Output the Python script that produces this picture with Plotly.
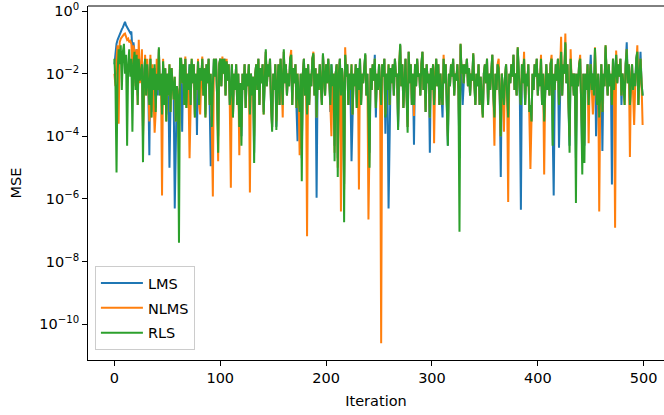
import plotly.graph_objects as go

iterations = list(range(500))

rls_mse = [
    3e-2, 4e-3, 7e-6, 1e-2, 6e-2, 2e-2, 8e-2, 3e-3, 5e-2, 9e-2, 1e-2, 4e-2, 5e-5, 2e-2, 6e-2, 8e-3, 3e-2, 1.4e-4, 2e-2, 5e-2, 3e-3, 4e-2, 1e-3, 3e-2, 6e-3,
    1e-2, 2e-2, 1.5e-5, 8e-3, 3e-2, 2e-3, 2e-2, 5e-3, 1e-3, 3e-2, 4e-4, 1.5e-2, 3e-3, 2e-2, 6e-4, 1e-2, 3e-3, 7e-2, 2e-3, 1e-2, 5e-4, 2.5e-2, 1e-3, 1.5e-2, 3e-4,
    1e-2, 2e-3, 2e-2, 6e-4, 1.5e-2, 4e-3, 1.5e-3, 8e-3, 3e-4, 4e-3, 2e-3, 4e-8, 3e-2, 3e-2, 5e-3, 2e-2, 1e-3, 3e-2, 8e-4, 1e-2, 3e-3, 2e-2, 1e-3, 3e-2, 5e-3,
    2e-2, 4e-4, 1e-2, 3e-3, 2.5e-2, 1e-3, 1.5e-2, 6e-3, 3e-2, 2e-3, 1.5e-2, 4e-4, 2e-2, 5e-3, 3e-2, 1e-3, 1e-2, 2e-4, 4e-3, 3e-2, 8e-3, 3e-2, 2e-3, 3e-5, 2e-2,
    3e-2, 4e-3, 3e-2, 1e-2, 3e-2, 2e-3, 2.5e-2, 6e-3, 2e-2, 1e-3, 3e-3, 2e-2, 4e-4, 1e-2, 3e-3, 2e-2, 1e-3, 1e-2, 2e-4, 5e-3, 5e-5, 1e-2, 3e-3, 2e-2, 8e-4,
    1e-2, 4e-3, 2e-2, 5e-4, 1e-2, 2e-3, 8e-3, 1.4e-5, 1e-2, 2e-2, 3e-3, 3e-2, 1e-3, 1.5e-2, 5e-3, 2e-2, 5e-4, 1e-2, 6e-2, 4e-3, 2e-2, 8e-3, 3e-2, 1e-3, 1.4e-4,
    1e-2, 3e-3, 2e-2, 1.6e-4, 5e-3, 2e-2, 1e-3, 3e-2, 6e-3, 1e-3, 6e-2, 5e-3, 2e-2, 2e-3, 1e-2, 4e-3, 3e-2, 4e-2, 1e-3, 1.5e-2, 5e-3, 2e-2, 8e-4, 1e-2, 2e-3,
    6e-4, 1e-2, 3.7e-6, 1e-2, 3e-2, 2e-3, 1.5e-2, 5e-4, 2e-2, 1e-3, 1e-2, 4e-3, 3e-2, 4.5e-2, 2e-3, 1.5e-2, 4e-4, 1e-2, 3e-3, 2e-2, 6e-3, 1e-3, 4.5e-2, 1e-2, 2e-3,
    2e-2, 5e-3, 3e-2, 8e-3, 1e-3, 2e-2, 4e-3, 1e-2, 1.6e-5, 1e-2, 2e-2, 5e-6, 1e-2, 3e-2, 2e-3, 1.5e-2, 5e-3, 1.8e-7, 4e-2, 8e-3, 2e-2, 1e-3, 1e-2, 3e-3, 2e-2,
    5e-4, 1e-2, 4e-3, 2e-2, 8e-4, 1.5e-2, 3e-3, 3e-2, 1e-3, 1e-2, 5e-3, 2e-2, 4.5e-2, 2e-3, 1e-2, 4e-4, 1e-5, 1.5e-2, 3e-3, 2e-2, 6e-3, 3e-2, 8e-4, 1e-2, 3e-3,
    2e-2, 5e-3, 1e-3, 2e-2, 8e-3, 3e-2, 4e-4, 1e-2, 3e-3, 2e-2, 1e-3, 1.5e-2, 5e-3, 2e-2, 2e-3, 3e-2, 8e-3, 1e-2, 1.6e-4, 2e-2, 9e-2, 4e-3, 2e-2, 8e-4, 1e-2,
    3e-2, 2e-3, 1.3e-4, 5e-2, 5e-3, 2e-2, 1e-3, 1e-2, 1e-3, 2e-2, 4e-3, 3e-2, 8e-3, 1e-2, 2e-3, 2e-2, 5e-2, 3e-3, 1.5e-2, 6e-4, 2e-2, 5e-3, 1e-2, 4e-4, 1.5e-2,
    3e-3, 2e-2, 1e-3, 1e-2, 3e-2, 4e-3, 2e-2, 1e-3, 1e-2, 2e-3, 1e-3, 3e-2, 5e-3, 2e-2, 1e-3, 5e-5, 1e-2, 4e-3, 2e-2, 8e-3, 3e-2, 2e-3, 1e-2, 6e-3, 2e-2,
    3e-3, 9e-8, 9e-2, 1e-2, 2e-2, 5e-3, 2e-2, 1e-2, 3e-2, 4e-3, 1.5e-2, 2e-3, 1e-2, 6e-3, 4.5e-2, 5e-3, 1e-3, 1e-2, 4e-3, 2e-2, 1e-3, 8e-3, 2e-3, 4e-4, 1e-2,
    2e-2, 5e-3, 3e-2, 1e-3, 1e-2, 3e-3, 2e-2, 4e-2, 2e-3, 4e-4, 1e-2, 3e-3, 2e-2, 1.5e-2, 2e-3, 1e-4, 1e-2, 3e-3, 1e-3, 8e-3, 2e-2, 2e-3, 4e-4, 1e-2, 5e-3,
    2e-2, 8e-3, 4e-2, 3e-3, 1e-2, 2e-3, 7e-2, 1e-2, 2e-3, 1e-3, 2e-2, 5e-3, 3e-2, 1e-3, 1e-2, 4e-3, 2e-2, 6e-4, 1e-3, 3e-4, 1e-2, 3e-3, 2e-2, 8e-3, 3e-2,
    2e-3, 1e-2, 4e-3, 3e-2, 1e-3, 1e-2, 3e-4, 5e-3, 2e-2, 3e-3, 1e-2, 2e-3, 2e-2, 3e-2, 5e-5, 1e-2, 3e-3, 2e-2, 6e-3, 3e-2, 1e-3, 1e-2, 5e-2, 2e-3, 2e-2,
    1e-2, 1e-1, 5e-3, 2e-2, 1e-3, 3e-5, 3e-2, 4e-3, 1e-2, 2e-3, 1e-2, 7.5e-7, 1e-2, 4e-3, 2e-2, 3e-2, 1e-3, 6e-6, 1e-2, 1.4e-5, 1e-2, 3e-3, 2e-2, 1e-3, 8e-3,
    2e-2, 3e-3, 1e-2, 2e-3, 6.6e-2, 5e-3, 1e-3, 1e-2, 4e-4, 2e-3, 2e-2, 6e-4, 1e-2, 4e-3, 8e-2, 1e-2, 2e-3, 2e-2, 4e-3, 1e-2, 1e-3, 3e-2, 3e-3, 1e-2, 4e-2,
    5e-3, 2e-2, 8e-3, 3e-2, 2e-3, 1e-2, 4e-3, 1e-3, 2e-2, 6e-2, 5e-3, 2e-2, 1e-3, 8e-3, 2e-2, 3e-3, 1e-2, 4e-3, 3e-2, 5e-2, 1e-3, 1e-2, 3e-2, 5e-3, 2e-3,
]

lms_mse = [
    2e-2, 5e-2, 9e-2, 1.2e-1, 1.5e-1, 1.8e-1, 2.2e-1, 2.6e-1, 3e-1, 4e-1, 4.5e-1, 3.5e-1, 3e-1, 2.5e-1, 2.2e-1, 2e-1, 2.2e-1, 6e-2, 1e-1, 5e-2, 5e-3, 6e-2, 2e-3, 4e-2, 8e-3,
    1.5e-2, 3e-2, 2e-4, 1e-2, 3e-2, 3e-3, 2e-2, 4e-3, 2.5e-5, 3e-2, 6e-4, 1.5e-2, 2e-3, 1.5e-2, 8e-4, 1e-2, 2e-3, 6e-2, 3e-3, 1e-2, 8e-4, 2e-2, 1e-3, 1.5e-2, 5e-4,
    1e-2, 3e-3, 1e-5, 1e-3, 1.5e-2, 4e-3, 2e-3, 5e-7, 3e-4, 4e-3, 2e-3, 1e-4, 2e-2, 3e-2, 1.4e-4, 2e-2, 1e-3, 3e-2, 1e-3, 1e-2, 3e-3, 2e-2, 1e-3, 2.5e-2, 5e-3,
    2e-2, 5e-4, 1e-2, 1.1e-4, 2.5e-2, 1e-3, 1.5e-2, 6e-3, 3e-2, 2e-3, 1.5e-2, 5e-4, 2e-2, 5e-3, 3e-2, 1e-3, 1.1e-5, 3e-4, 4e-3, 3e-2, 8e-3, 3e-2, 2e-3, 1e-4, 2e-2,
    3e-2, 4e-3, 3e-2, 1e-2, 3e-2, 2e-3, 2.5e-2, 6e-3, 2e-2, 1e-3, 3e-3, 2e-2, 5e-4, 1e-2, 3e-3, 2e-2, 1e-3, 1e-2, 3e-4, 5e-3, 1e-4, 1e-2, 3e-3, 2e-2, 8e-4,
    1e-2, 4e-3, 2e-2, 6e-4, 1e-2, 2e-3, 8e-3, 3e-5, 1e-2, 2e-2, 3e-3, 3e-2, 1e-3, 1.5e-2, 5e-3, 2e-2, 6e-4, 1e-2, 5e-2, 4e-3, 2e-2, 8e-3, 3e-2, 1e-3, 2e-4,
    1e-2, 3e-3, 2e-2, 2e-4, 5e-3, 2e-2, 1e-3, 3e-2, 6e-3, 1e-3, 5e-2, 5e-3, 2e-2, 2e-3, 1e-2, 4e-3, 3e-2, 4e-2, 1e-3, 1.5e-2, 5e-3, 2e-2, 8e-4, 7e-5, 2e-3,
    8e-4, 1e-2, 2e-5, 1e-2, 3e-2, 2e-3, 1.5e-2, 8e-4, 2e-2, 1e-3, 1e-2, 4e-3, 3e-2, 4e-2, 2e-3, 1.5e-2, 1.1e-6, 1e-2, 3e-3, 2e-2, 6e-3, 1e-3, 4e-2, 1e-2, 2e-3,
    2e-2, 5e-3, 3e-2, 8e-3, 6e-4, 2e-2, 4e-3, 1e-2, 5e-5, 1e-2, 2e-2, 2e-5, 1e-2, 3e-2, 2e-3, 1.5e-2, 5e-3, 3e-6, 4e-2, 8e-3, 2e-2, 1e-3, 1e-2, 3e-3, 1.6e-5,
    5e-4, 1e-2, 4e-3, 2e-2, 8e-4, 1.5e-2, 3e-3, 3e-2, 1e-3, 1e-2, 5e-3, 2e-2, 4e-2, 2e-3, 1e-2, 5e-4, 3e-5, 1.5e-2, 3e-3, 2e-2, 6e-3, 4e-2, 4e-4, 1e-2, 3e-3,
    2e-2, 5e-3, 1e-3, 2e-2, 8e-3, 3e-2, 1.2e-4, 1e-2, 3e-3, 5e-7, 1e-3, 1.5e-2, 5e-3, 2e-2, 2e-3, 3e-2, 8e-3, 1e-2, 2e-4, 2e-2, 8e-2, 4e-3, 2e-2, 8e-4, 1e-2,
    3e-2, 2e-3, 2e-4, 5e-2, 5e-3, 2e-2, 1e-3, 1e-2, 5.4e-5, 2e-2, 4e-3, 3e-2, 8e-3, 1e-2, 2e-3, 2e-2, 5e-2, 3e-3, 1.5e-2, 6e-4, 2e-2, 5e-3, 1e-2, 3e-5, 1.5e-2,
    3e-3, 2e-2, 1e-3, 1e-2, 3e-2, 4e-3, 2e-2, 1e-3, 1e-2, 2e-3, 4e-4, 3e-2, 5e-3, 2e-2, 1e-3, 5e-5, 1e-2, 4e-3, 2e-2, 8e-3, 3e-2, 2e-3, 1e-2, 6e-3, 2e-2,
    3e-3, 2e-5, 8e-2, 1e-2, 1e-3, 5e-3, 2e-2, 1e-2, 3e-2, 4e-3, 1.5e-2, 2e-3, 1e-2, 6e-3, 4e-2, 5e-3, 1e-3, 1e-2, 4e-3, 2e-2, 1e-3, 8e-3, 2e-3, 5e-4, 1e-2,
    2e-2, 5e-3, 3e-2, 1e-3, 1e-2, 3e-3, 2e-2, 4e-2, 2e-3, 5e-4, 1e-2, 3e-3, 2e-2, 1.5e-2, 2e-3, 5e-6, 1e-2, 3e-3, 1e-3, 8e-3, 2e-2, 2e-3, 5e-4, 1e-2, 5e-3,
    2e-2, 8e-3, 4e-2, 3e-3, 1e-2, 2e-3, 6e-2, 1e-2, 2e-3, 4.5e-7, 2e-2, 5e-3, 3e-2, 1e-3, 1e-2, 4e-3, 2e-2, 6e-4, 1e-3, 3e-4, 1e-2, 3e-3, 2e-2, 8e-3, 3e-2,
    2e-3, 1e-2, 4e-3, 3e-2, 1e-3, 1e-2, 3e-4, 5e-3, 2e-2, 3e-3, 1e-2, 2e-3, 2e-2, 3e-2, 1e-4, 1.3e-6, 3e-3, 2e-2, 6e-3, 3e-2, 4.3e-5, 1e-2, 5e-2, 2e-3, 2e-2,
    1e-2, 9e-2, 5e-3, 2e-2, 1e-3, 5e-5, 3e-2, 4e-3, 1e-2, 2e-3, 1e-2, 2e-5, 1e-2, 4e-3, 2e-2, 3e-2, 1e-3, 2e-5, 1e-2, 5e-5, 1e-2, 3e-3, 2e-2, 1e-3, 8e-3,
    4e-2, 3e-3, 1e-2, 2e-3, 6e-2, 1e-4, 1e-3, 1e-2, 4e-4, 2e-3, 2e-2, 3.4e-5, 1e-2, 4e-3, 7e-2, 1e-2, 2e-3, 2e-2, 4e-3, 1e-2, 2.9e-6, 3e-2, 3e-3, 1e-2, 4e-2,
    5e-3, 2e-2, 8e-3, 3e-2, 1e-3, 1e-2, 4e-3, 2e-3, 2e-2, 1e-1, 5e-3, 2e-2, 1e-3, 8e-3, 2e-2, 3e-3, 1e-2, 4e-3, 3e-2, 5e-2, 1e-3, 1e-2, 5e-2, 5e-3, 2e-3,
]

nlms_mse = [
    1e-2, 4e-3, 3e-2, 8e-2, 2.5e-4, 1e-1, 1.3e-1, 1.5e-1, 1.7e-1, 1.8e-1, 1.9e-1, 1.5e-1, 1.2e-1, 1.3e-1, 1e-1, 1.1e-1, 9e-2, 2e-2, 8e-2, 5e-2, 4e-3, 6e-2, 1e-3, 1.2e-1, 5e-3,
    1e-2, 6e-2, 1e-4, 1e-2, 4e-2, 2e-3, 3e-2, 5e-3, 3e-4, 4e-2, 4e-4, 2e-2, 3e-3, 1.3e-4, 6e-4, 3e-2, 3e-3, 6e-2, 2e-3, 1e-2, 1.3e-6, 3e-2, 1e-3, 1.5e-2, 3e-4,
    1e-2, 2e-3, 2e-2, 6e-4, 1.5e-2, 4e-3, 1.5e-3, 8e-3, 3e-4, 4e-3, 2e-3, 3e-5, 3e-2, 3e-2, 5e-3, 2e-2, 1e-3, 3.5e-2, 8e-4, 1e-2, 3e-3, 2e-5, 1e-3, 3e-2, 5e-3,
    2e-2, 4e-4, 1e-2, 3e-3, 3e-2, 1e-3, 5e-4, 6e-3, 3.5e-2, 2e-3, 1.5e-2, 4e-4, 2e-2, 5e-3, 3e-2, 1e-3, 1e-2, 2e-4, 1.2e-6, 3e-2, 8e-3, 3e-2, 2e-3, 1.6e-5, 2e-2,
    3e-2, 4e-3, 3.5e-2, 1e-2, 3e-2, 2e-3, 3e-2, 6e-3, 2e-2, 1e-3, 2.3e-6, 2e-2, 4e-4, 1e-2, 3e-3, 2e-2, 1e-3, 1e-2, 2.5e-5, 5e-3, 2e-4, 1e-2, 3e-3, 2e-2, 8e-4,
    1e-2, 4e-3, 2e-2, 1.6e-6, 1e-2, 2e-3, 8e-3, 1e-4, 1e-2, 2e-2, 3e-3, 3e-2, 1e-3, 1.5e-2, 5e-3, 2e-2, 5e-4, 1e-2, 5e-2, 4e-3, 2e-2, 8e-3, 3e-2, 1e-3, 2e-4,
    1e-2, 3e-3, 2e-2, 3e-4, 5e-3, 2e-2, 1e-3, 3e-2, 6e-3, 4e-4, 5e-2, 5e-3, 2e-2, 2e-3, 1e-2, 4e-3, 3e-2, 5.7e-2, 1e-3, 1.5e-2, 5e-3, 2e-2, 8e-4, 1e-2, 2e-3,
    2.5e-5, 1e-2, 4e-5, 1e-2, 3e-2, 2e-3, 1.5e-2, 6.5e-8, 2e-2, 1e-3, 1e-2, 4e-3, 3e-2, 5e-2, 2e-3, 1.5e-2, 4e-4, 1e-2, 3e-3, 2e-2, 6e-3, 1e-3, 4e-2, 1e-2, 2e-3,
    2e-2, 5e-3, 3e-2, 8e-3, 1e-3, 1e-4, 4e-3, 1e-2, 3e-5, 1e-2, 2e-2, 1e-5, 1e-2, 3e-2, 4e-7, 1.5e-2, 5e-3, 2e-6, 7e-2, 8e-3, 2e-2, 1e-3, 1e-2, 3e-3, 2e-2,
    5e-4, 1e-2, 4e-3, 2e-2, 8e-4, 1.5e-2, 2e-6, 3e-2, 1e-3, 1e-2, 5e-3, 2e-2, 4e-2, 2e-3, 1e-2, 2.2e-7, 1e-4, 1.5e-2, 3e-3, 2e-2, 6e-3, 3e-2, 8e-4, 1e-2, 3e-3,
    2e-2, 5e-3, 2.5e-11, 2e-2, 8e-3, 3e-2, 5e-4, 1e-2, 3e-3, 2e-2, 1e-3, 1.5e-2, 5e-3, 2e-2, 2e-3, 3e-2, 8e-3, 1e-2, 3e-4, 2e-2, 8e-2, 4e-3, 2e-2, 8e-4, 1e-2,
    3e-2, 2e-3, 2e-4, 5e-2, 5e-3, 2e-2, 1e-3, 1e-2, 4.5e-4, 2e-2, 4e-3, 3e-2, 8e-3, 1e-2, 2e-3, 2e-2, 5e-2, 3e-3, 1.5e-2, 6e-4, 2e-2, 5e-3, 1e-2, 4e-4, 1.5e-2,
    3e-3, 2e-2, 6e-5, 1e-2, 3e-2, 4e-3, 2e-2, 1e-3, 1e-2, 2e-3, 1e-3, 4e-2, 5e-3, 2e-2, 1e-3, 1e-4, 1e-2, 4e-3, 2e-2, 8e-3, 3e-2, 2e-3, 1e-2, 6e-3, 2e-2,
    3e-3, 5e-5, 9e-2, 1e-2, 2e-2, 5e-3, 2e-2, 1e-2, 3e-2, 4e-3, 1.5e-2, 2e-3, 1e-2, 6e-3, 4.5e-2, 5e-3, 1e-3, 1e-2, 4e-3, 2e-2, 1e-3, 8e-3, 2e-3, 4e-4, 1e-2,
    2e-2, 5e-3, 3e-2, 1e-3, 1e-2, 3e-3, 2e-2, 4e-2, 2e-3, 5e-5, 1e-2, 3e-3, 2e-2, 3e-2, 2e-3, 1e-4, 1e-2, 3e-3, 1.4e-4, 8e-3, 2e-2, 2e-3, 8e-7, 1e-2, 5e-3,
    2e-2, 8e-3, 4e-2, 3e-3, 1e-2, 2e-3, 7e-2, 1e-2, 2e-3, 1e-3, 2e-2, 5e-3, 5e-2, 1e-3, 1e-2, 4e-3, 2e-2, 8e-5, 9e-6, 3e-4, 1e-2, 3e-3, 2e-2, 8e-3, 3e-2,
    2e-3, 1e-2, 4e-3, 4e-2, 1e-3, 1e-2, 6e-6, 5e-3, 2e-2, 3e-3, 1e-2, 2e-3, 2e-2, 4e-2, 5e-4, 1e-2, 3e-3, 2e-2, 6e-3, 3e-2, 1e-3, 1e-2, 1.5e-1, 2e-3, 2e-2,
    1e-2, 1.9e-1, 5e-3, 2e-2, 1e-3, 1e-4, 6e-2, 4e-3, 1e-2, 2e-3, 1e-2, 1e-4, 1e-2, 4e-3, 2e-2, 4e-2, 1e-3, 1e-4, 1e-2, 3e-4, 1e-2, 3e-3, 2e-2, 6e-5, 8e-3,
    2e-2, 3e-3, 5e-4, 2e-3, 7e-2, 5e-3, 1e-3, 1e-2, 4e-7, 2e-3, 2e-2, 6e-4, 1e-2, 4e-3, 8e-2, 1e-2, 2e-3, 2e-2, 4e-3, 1e-2, 1e-3, 3e-2, 3e-3, 1.2e-7, 5.5e-2,
    5e-3, 2e-2, 8e-3, 3e-2, 2e-3, 1e-2, 4e-3, 1e-3, 2e-2, 6e-2, 5e-3, 2e-2, 2.2e-5, 8e-3, 2e-2, 3e-3, 2.3e-4, 4e-3, 3e-2, 8e-2, 1e-3, 1e-2, 3e-2, 5e-3, 2.3e-4,
]

series_names = ["LMS", "NLMS", "RLS"]
series_colors = ["#1f77b4", "#ff7f0e", "#2ca02c"]
y_tick_values = [1e0, 1e-2, 1e-4, 1e-6, 1e-8, 1e-10]
y_tick_labels = ["10<sup>0</sup>", "10<sup>−2</sup>", "10<sup>−4</sup>", "10<sup>−6</sup>",
                 "10<sup>−8</sup>", "10<sup>−10</sup>"]
x_tick_values = [0, 100, 200, 300, 400, 500]

font_family = "DejaVu Sans, Liberation Sans, sans-serif"
text_color = "#000000"
fs = 14.5

fig = go.Figure()
for name, color, values in zip(series_names, series_colors, [lms_mse, nlms_mse, rls_mse]):
    fig.add_trace(go.Scatter(x=iterations, y=values, mode="lines", name=name, legendgroup=name,
                             line=dict(color=color, width=2)))

fig.update_layout(
    width=664, height=415,
    margin=dict(l=88, r=0, t=6, b=55, autoexpand=False),
    paper_bgcolor="white", plot_bgcolor="white",
    font=dict(family=font_family, size=fs, color=text_color),
    showlegend=True,
    legend=dict(x=0.012, y=0.028, xanchor="left", yanchor="bottom",
                bgcolor="rgba(255,255,255,0.8)", bordercolor="#cccccc", borderwidth=1,
                font=dict(size=fs, color=text_color), tracegroupgap=3, itemwidth=42),
    xaxis=dict(range=[-24.95, 519.2], tickvals=x_tick_values, showgrid=False, zeroline=False,
               showline=True, linecolor="black", linewidth=1, ticks="outside", ticklen=5,
               tickcolor="black", tickwidth=1, ticklabeloverflow="allow",
               title=dict(text="Iteration", standoff=10, font=dict(size=fs))),
    yaxis=dict(type="log", range=[-11.14, 0.16], tickvals=y_tick_values, ticktext=y_tick_labels,
               showgrid=False, zeroline=False, showline=True, linecolor="black", linewidth=1,
               ticks="outside", ticklen=5, tickcolor="black", tickwidth=1,
               title=dict(text="MSE", standoff=14, font=dict(size=fs))),
    shapes=[dict(type="line", xref="paper", yref="paper", x0=0, x1=1, y0=1, y1=1,
                 line=dict(color="black", width=1))],
)

fig.write_html("out.html", config={"displayModeBar": False},
               post_script="document.body.style.margin='0';document.body.style.padding='0';")
